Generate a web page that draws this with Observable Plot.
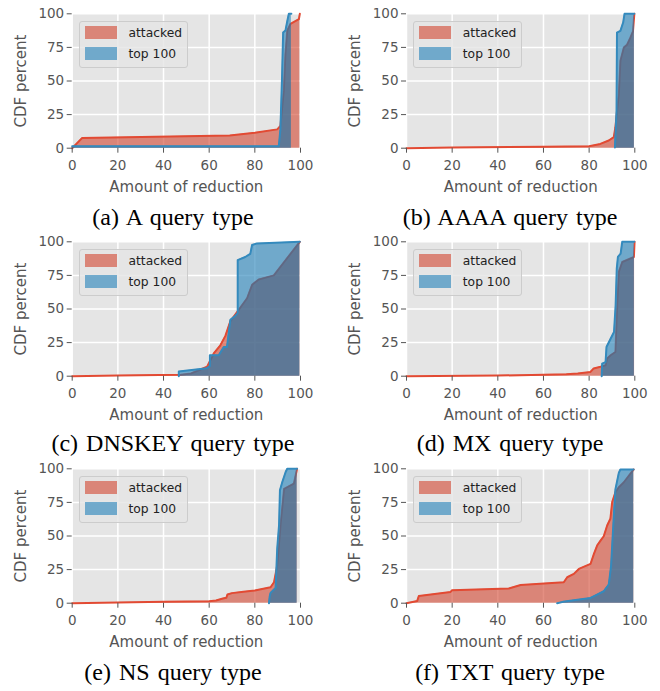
<!DOCTYPE html>
<html><head><meta charset="utf-8">
<script src="https://cdn.jsdelivr.net/npm/d3@7"></script>
<script src="https://cdn.jsdelivr.net/npm/@observablehq/plot@0.6"></script>
<style>
html,body{margin:0;padding:0;background:#fff;}
body{width:660px;height:691px;position:relative;overflow:hidden;font-family:"DejaVu Sans",sans-serif;}
.cell{position:absolute;width:330px;height:228px;}
.cell svg{position:absolute;left:0;top:0;}
.cell svg g[aria-label="x-axis label"], .cell svg g[aria-label="y-axis label"]{font-size:15px;}
.cap{position:absolute;font-family:"Liberation Serif",serif;font-size:24px;line-height:24px;white-space:nowrap;text-align:center;color:#000;word-spacing:2px;}
.leg{position:absolute;width:107px;height:45px;background:rgba(229,229,229,0.8);border:1px solid #cccccc;border-radius:3px;font-family:"DejaVu Sans",sans-serif;font-size:12.3px;color:#222;}
.leg .sw{position:absolute;left:5px;width:32px;height:13px;}
.leg .lb{position:absolute;left:49px;line-height:14px;}
</style></head><body>
<script>
// ---------- data ----------
const xTicks = [0, 20, 40, 60, 80, 100];
const yTicks = [0, 25, 50, 75, 100];
const seriesNames = ["attacked", "top 100"];
const captions = ["(a) A query type", "(b) AAAA query type", "(c) DNSKEY query type",
                  "(d) MX query type", "(e) NS query type", "(f) TXT query type"];

// (a) A
const A_att_x = [0, 4.3, 69, 80, 89.8, 91.2, 92.7, 93.4, 94.2, 95.6, 99.3, 99.7];
const A_att_y = [0, 7.5, 9.5, 11.5, 14, 16.5, 43, 70, 87.5, 92.5, 96, 100];
const A_top_x = [0, 90.5, 91.2, 91.9, 92.4, 93.4, 94.2, 94.9, 96];
const A_top_y = [1.5, 1.5, 14, 52, 86, 87.5, 94.5, 100, 100];
// (b) AAAA
const AAAA_att_x = [0, 20, 60, 80, 84.9, 88.6, 90.8, 91.5, 93, 93.7, 95.2, 96.6, 98, 99.2, 99.8];
const AAAA_att_y = [0, 0.5, 1, 1.5, 3.2, 5.7, 8.2, 15.6, 40, 65, 75, 77, 82, 87, 100];
const AAAA_top_x = [91.3, 92, 92.2, 93.7, 94.9, 95.5, 99.8];
const AAAA_top_y = [0.5, 28, 86, 87.3, 93.5, 100, 100];
// (c) DNSKEY
const DNSKEY_att_x = [0, 20, 47.4, 52, 59.1, 62, 64.9, 67.1, 69.3, 71.5, 76.6, 78.8, 81.7, 88.3, 99.7];
const DNSKEY_att_y = [0, 0.5, 1, 2, 7, 16.9, 23, 30, 41, 46, 58, 68, 72, 75, 100];
const DNSKEY_top_x = [46.7, 46.7, 59, 60.3, 60.3, 64.2, 66.4, 67.8, 69.3, 71.5, 72.5, 72.5, 75.8, 78, 78.8, 81, 99.7];
const DNSKEY_top_y = [0, 3.5, 6, 7.5, 15.6, 15.6, 21.8, 21.8, 42, 45, 47, 86.4, 88.7, 91, 97.6, 98.8, 100];
// (d) MX
const MX_att_x = [0, 40, 60, 70, 75, 80.6, 82, 85, 87.2, 87.9, 89.4, 91.5, 92.3, 93, 94.5, 99.6, 99.9];
const MX_att_y = [0, 0.5, 1, 1.5, 2, 3.2, 5.8, 7, 8.2, 13.2, 15.6, 18, 52.8, 77.6, 85, 88.7, 100];
const MX_top_x = [85.5, 85.7, 87.2, 87.6, 89.4, 90.9, 91.6, 92.1, 92.6, 93.8, 94.5, 99.8];
const MX_top_y = [0, 9.3, 10.5, 21.7, 27.9, 32.9, 52.8, 80, 88.7, 91.2, 100, 100];
// (e) NS
const NS_att_x = [0, 20, 40, 60, 63, 66, 67.5, 68, 70, 75, 80, 86.9, 88.4, 89.8, 91.3, 92.8, 97.1, 98.5];
const NS_att_y = [0, 0.5, 1, 1.5, 2, 3.5, 4, 6.5, 7.5, 8.5, 9.5, 11.9, 15.6, 28, 59, 85, 89, 100];
const NS_top_x = [86.2, 86.5, 86.9, 89.1, 89.8, 90.6, 91, 92, 93.5, 94.2, 98.5];
const NS_top_y = [0, 5, 7.7, 11.4, 40.6, 58, 84, 90, 97.6, 100, 100];
// (f) TXT
const TXT_att_x = [0, 4.7, 5.4, 19.3, 20, 44.8, 50, 68.9, 70.4, 73.3, 75.5, 80.6, 82.1, 83.5, 85, 86.4, 87.9, 89.3, 90.1, 91.5, 93, 95.2, 99.5];
const TXT_att_y = [0, 1.7, 5.4, 8.4, 9.7, 11, 13.5, 15.6, 19.3, 21.8, 25.5, 29.2, 36.7, 42.9, 46.6, 49.8, 57.8, 62.8, 75.2, 82.6, 86.3, 90, 99.5];
const TXT_top_x = [66, 68.5, 73.3, 80.6, 83.5, 86.4, 88.6, 89.6, 90.8, 91.5, 93, 93.7, 99.5];
const TXT_top_y = [0, 1, 2.2, 3.9, 6.4, 8.9, 13.9, 27.5, 64.7, 84.6, 97, 99.5, 99.5];

// ---------- styling ----------
const RED = "#E24A33", RED_FILL = "#D44A36", BLUE = "#348ABD", SHADE = "#2a3b58";
const RED_OP = 0.62, BLUE_OP = 0.66, SHADE_OP = 0.2;

const panels = [
  {ax: A_att_x, ay: A_att_y, bx: A_top_x, by: A_top_y},
  {ax: AAAA_att_x, ay: AAAA_att_y, bx: AAAA_top_x, by: AAAA_top_y},
  {ax: DNSKEY_att_x, ay: DNSKEY_att_y, bx: DNSKEY_top_x, by: DNSKEY_top_y},
  {ax: MX_att_x, ay: MX_att_y, bx: MX_top_x, by: MX_top_y},
  {ax: NS_att_x, ay: NS_att_y, bx: NS_top_x, by: NS_top_y},
  {ax: TXT_att_x, ay: TXT_att_y, bx: TXT_top_x, by: TXT_top_y}
];

// value of a piecewise-linear series at x (0 outside its range)
function valueAt(xs, ys, x) {
  const n = xs.length;
  if (x < xs[0] || x > xs[n - 1]) return 0;
  for (let k = n - 2; k >= 0; k--) {
    if (xs[k] <= x && x <= xs[k + 1] && xs[k + 1] > xs[k]) {
      const t = (x - xs[k]) / (xs[k + 1] - xs[k]);
      return ys[k] + t * (ys[k + 1] - ys[k]);
    }
  }
  return ys[n - 1];
}
// region where both filled areas overlap (rendering helper derived from the series)
function overlapRegion(p) {
  const lo = Math.max(p.ax[0], p.bx[0]);
  const hi = Math.min(p.ax[p.ax.length - 1], p.bx[p.bx.length - 1]);
  const out = [];
  if (hi <= lo) return out;
  const steps = Math.ceil((hi - lo) / 0.02);
  for (let s = 0; s <= steps; s++) {
    const x = lo + (hi - lo) * s / steps;
    out.push({x, y: Math.min(valueAt(p.ax, p.ay, x), valueAt(p.bx, p.by, x))});
  }
  return out;
}

const rowTops = [0, 228, 455];
const capBase = [225.5, 223, 224.8];
const colLayout = [
  {left: 0, ml: 71.7, mr: 30, capCenter: 173},
  {left: 330, ml: 76, mr: 25.7, capCenter: 180}
];
const MT = 13.3, PLOT_H = 134.4, H = 200;

panels.forEach((p, i) => {
  const row = Math.floor(i / 2), col = i % 2;
  const L = colLayout[col];
  const cell = document.createElement("div");
  cell.className = "cell";
  cell.style.left = L.left + "px";
  cell.style.top = rowTops[row] + "px";
  document.body.appendChild(cell);

  const att = p.ax.map((x, k) => ({x, y: p.ay[k]}));
  const top = p.bx.map((x, k) => ({x, y: p.by[k]}));
  const both = overlapRegion(p);

  const svg = Plot.plot({
    width: 330, height: H,
    marginLeft: L.ml, marginRight: L.mr, marginTop: MT, marginBottom: H - MT - PLOT_H,
    style: {fontFamily: "DejaVu Sans, sans-serif", fontSize: "13.5px", color: "#555555", background: "transparent", overflow: "visible"},
    x: {domain: [0, 100]},
    y: {domain: [0, 100]},
    marks: [
      Plot.frame({fill: "#E5E5E5", stroke: null}),
      Plot.gridX(xTicks, {stroke: "#ffffff", strokeOpacity: 1, strokeWidth: 1.5}),
      Plot.gridY(yTicks, {stroke: "#ffffff", strokeOpacity: 1, strokeWidth: 1.5}),
      Plot.areaY(att, {x: "x", y1: 0, y2: "y", fill: RED_FILL, fillOpacity: RED_OP}),
      Plot.lineY(att, {x: "x", y: "y", stroke: RED, strokeWidth: 2}),
      Plot.areaY(top, {x: "x", y1: 0, y2: "y", fill: BLUE, fillOpacity: BLUE_OP}),
      Plot.areaY(both, {x: "x", y1: 0, y2: "y", fill: SHADE, fillOpacity: SHADE_OP}),
      Plot.lineY(top, {x: "x", y: "y", stroke: BLUE, strokeWidth: 2}),
      Plot.axisX(xTicks, {tickSize: 5, tickPadding: 7, label: "Amount of reduction", labelAnchor: "center", labelOffset: 44, labelArrow: "none"}),
      Plot.axisY(yTicks, {tickSize: 5, tickPadding: 3, label: "CDF percent", labelAnchor: "center", labelOffset: 56.7, labelArrow: "none"})
    ]
  });
  svg.querySelectorAll('g[aria-label$="axis label"] text').forEach(t => {
    t.textContent = t.textContent.replace(/[\u2190-\u2193]/g, "").trim();
  });
  cell.appendChild(svg);

  // legend
  const leg = document.createElement("div");
  leg.className = "leg";
  leg.style.left = (L.ml + 6.8) + "px";
  leg.style.top = (MT + 7.5) + "px";
  const cols = [`rgba(212,74,54,${RED_OP})`, `rgba(52,138,189,${BLUE_OP})`];
  seriesNames.forEach((name, k) => {
    const sw = document.createElement("div");
    sw.className = "sw";
    sw.style.top = (4.5 + k * 20.8) + "px";
    sw.style.background = cols[k];
    leg.appendChild(sw);
    const lb = document.createElement("div");
    lb.className = "lb";
    lb.style.top = (4 + k * 20.8) + "px";
    lb.textContent = name;
    leg.appendChild(lb);
  });
  cell.appendChild(leg);

  // caption
  const cap = document.createElement("div");
  cap.className = "cap";
  cap.textContent = captions[i];
  cap.style.width = "330px";
  cap.style.left = (L.capCenter - 165) + "px";
  cap.style.top = (capBase[row] - 20.1) + "px";
  cell.appendChild(cap);
});
</script>
</body></html>
